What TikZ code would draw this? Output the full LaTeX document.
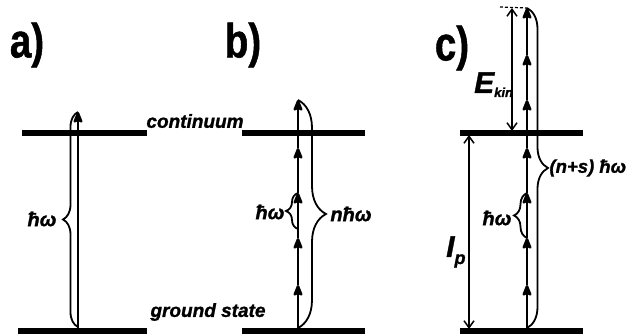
\documentclass[tikz,border=0pt]{standalone}
\usepackage{fontspec}
\usepackage{graphicx}
\setmainfont{Liberation Sans}[BoldFeatures={FakeBold=1.2},BoldItalicFeatures={FakeBold=1.2}]
\usetikzlibrary{arrows.meta,decorations.pathreplacing}
\begin{document}
\begin{tikzpicture}[x=1pt,y=-1pt,
  energy level/.style={line width=5.5pt},
  photon/.style={line width=2.4pt,-{Stealth[length=14pt,width=11pt,inset=3pt,round]}},
  thin arrow/.style={line width=1.5pt,{Straight Barb[length=7pt,width=10pt]}-{Straight Barb[length=7pt,width=10pt]}},
  brc/.style={line width=1.8pt,decorate,decoration={brace,amplitude=#1}},
  panel/.style={font=\fontsize{48}{48}\selectfont\bfseries},
  lvl/.style={font=\fontsize{19}{19}\selectfont\bfseries\itshape},
  lab/.style={font=\fontsize{20}{20}\selectfont\bfseries\itshape}
]
\useasboundingbox (0,0) rectangle (633,336);

% panel labels
\node[panel] (pa) at (27,45) {\scalebox{0.8}[1]{a)}};
\node[panel] (pb) at (243,45) {\scalebox{0.8}[1]{b)}};
\node[panel] (pc) at (452,48) {\scalebox{0.8}[1]{c)}};

% levels
\coordinate (aT1) at (22,133);  \coordinate (aT2) at (147,133);
\coordinate (aG1) at (18,331);  \coordinate (aG2) at (147,331);
\coordinate (bT1) at (242,133); \coordinate (bT2) at (365,133);
\coordinate (bG1) at (242,331); \coordinate (bG2) at (365,331);
\coordinate (cT1) at (460,133); \coordinate (cT2) at (583,133);
\coordinate (cG1) at (460,331); \coordinate (cG2) at (583,331);
\draw[energy level] (aT1) -- (aT2);
\draw[energy level] (aG1) -- (aG2);
\draw[energy level] (bT1) -- (bT2);
\draw[energy level] (bG1) -- (bG2);
\draw[energy level] (cT1) -- (cT2);
\draw[energy level] (cG1) -- (cG2);

\node[lvl] (cont) at (195,121) {continuum};
\node[lvl] (gs) at (208,312) {ground state};

% panel a
\coordinate (a0) at (78,331); \coordinate (a1) at (78,112);
\draw[photon] (a0) -- (a1);
\draw[brc=15] (78,327) -- (a1);
\node[lab] (ahw) at (42,219) {ħω};

% panel b
\foreach \i/\y in {0/331,1/285,2/238,3/193,4/148,5/100} {\coordinate (b\i) at (298,\y);}
\foreach \i/\j in {0/1,1/2,2/3,3/4,4/5} {\draw[photon] (b\i) -- (b\j);}
\draw[brc=12] (298,229) -- (b3);
\node[lab] (bhw) at (270,212) {ħω};
\draw[brc=28] (b5) -- (298,328);
\node[lab] (bnhw) at (351,214) {nħω};

% panel c
\foreach \i/\y in {0/331,1/285,2/238,3/193,4/148,5/100,6/55,7/8} {\coordinate (c\i) at (527,\y);}
\foreach \i/\j in {0/1,1/2,2/3,3/4,4/5,5/6,6/7} {\draw[photon] (c\i) -- (c\j);}
\coordinate (ek1) at (512,8); \coordinate (ek2) at (512,131);
\draw[thin arrow] (ek1) -- (ek2);
\coordinate (ip1) at (469,135); \coordinate (ip2) at (469,329);
\draw[thin arrow] (ip1) -- (ip2);
\coordinate (dsh) at (500,7);
\draw[line width=1.2pt,dash pattern=on 3pt off 2pt] (dsh) -- (c7);
\draw[brc=13] (527,238) -- (c3);
\node[lab] (chw) at (497,218) {ħω};
\draw[brc=21] (c7) -- (527,328);
\node[lab,anchor=west,font=\fontsize{18.5}{18.5}\selectfont\bfseries\itshape] (cns) at (546,168) {(n+s) ħω};
\node[anchor=base west,inner sep=0pt] (ekin) at (474,93)
  {\fontsize{30}{30}\selectfont\bfseries\itshape E\raisebox{-4pt}{\fontsize{13}{13}\selectfont kin}};
\node[anchor=base west,inner sep=0pt] (ip) at (446,257)
  {\fontsize{30}{30}\selectfont\bfseries\itshape I\raisebox{-7pt}{\fontsize{18}{18}\selectfont p}};
\end{tikzpicture}
\end{document}
